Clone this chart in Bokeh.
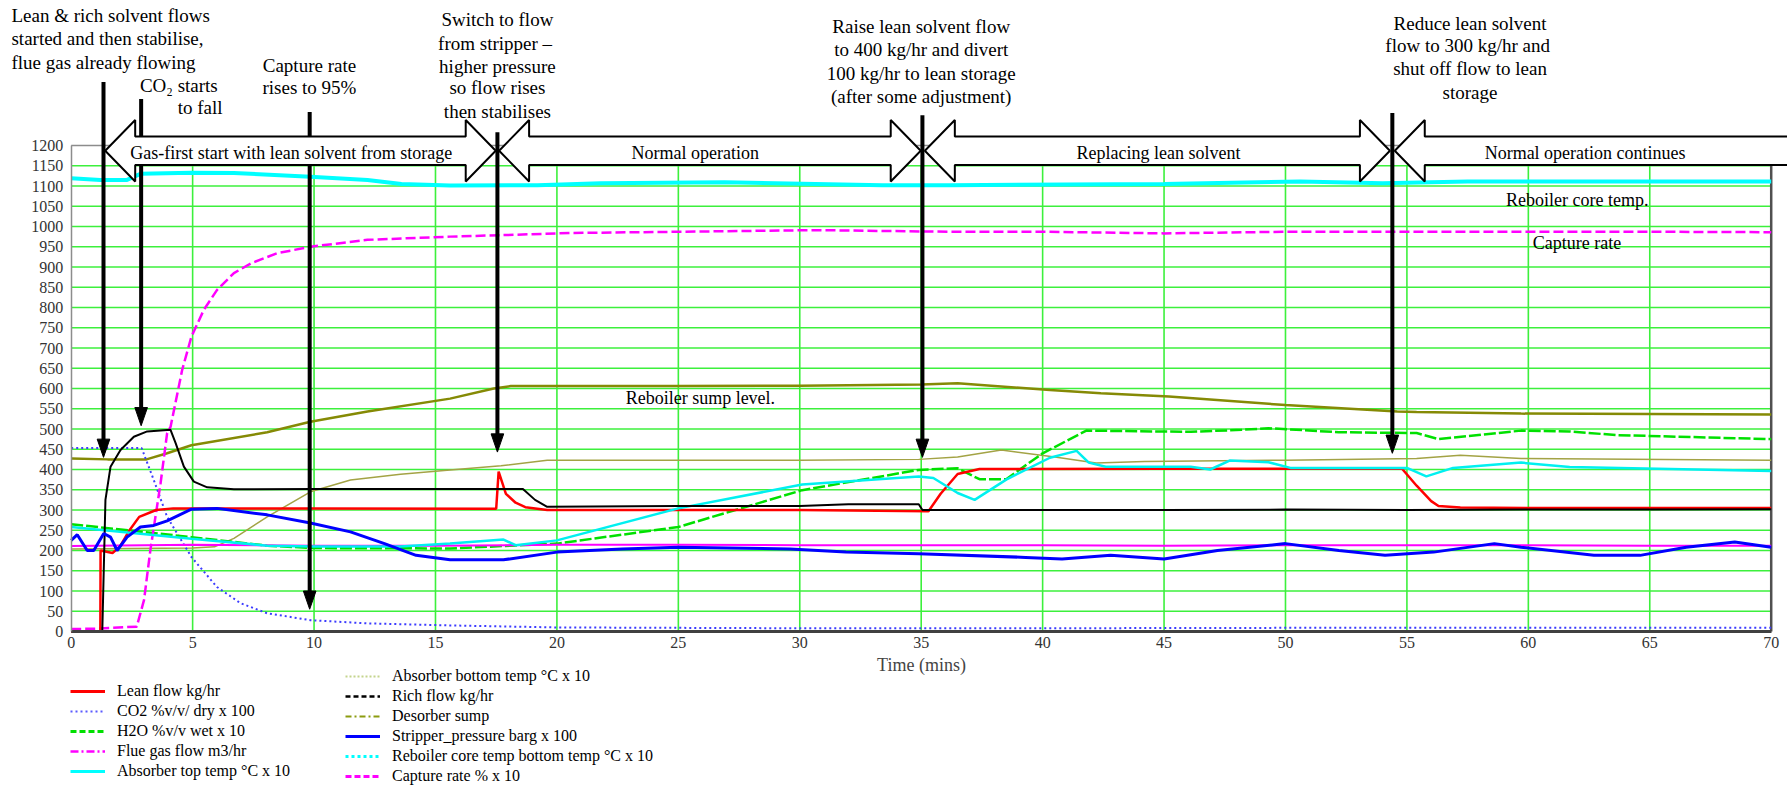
from bokeh.plotting import figure
from bokeh.models import Range1d, FixedTicker, Label, Legend, LegendItem, LinearAxis
from bokeh.embed import file_html
from bokeh.resources import INLINE

FONT = "Liberation Serif"
NAN = float("nan")

# ---------------- data ----------------
x_ticks = [0, 5, 10, 15, 20, 25, 30, 35, 40, 45, 50, 55, 60, 65, 70]
y_ticks = [0, 50, 100, 150, 200, 250, 300, 350, 400, 450, 500, 550, 600,
           650, 700, 750, 800, 850, 900, 950, 1000, 1050, 1100, 1150, 1200]

lean_t = [0, 1.2, 1.21, 1.7, 2.0, 2.4, 2.8, 3.5, 4.2, 10, 17.5, 17.6, 17.9, 18.3, 18.7, 19.6,
          25, 30, 35.3, 35.8, 36.5, 37.4, 45, 50, 54.8, 55.4, 56.0, 56.3, 57.2, 60, 65, 70]
lean_v = [0, 0, 200, 194, 209, 250, 283, 300, 304, 304, 303, 395, 340, 318, 307, 300,
          300, 300, 297, 340, 389, 401, 402, 402, 402, 360, 322, 310, 306, 305, 305, 305]

co2_t = [0, 2.9, 3.4, 3.95, 4.95, 6.0, 6.97, 8.07, 9.85, 12.2, 15.6, 20, 30, 40, 50, 60, 70]
co2_v = [453, 453, 374, 283, 184, 110, 70, 45, 28, 20, 15, 10, 8, 8, 9, 9, 9]

h2o_t = [0, 4.95, 8.07, 10, 15.6, 20, 25, 30.1, 34.9, 36.5, 37.4, 38.5, 40.0, 41.8, 46.1,
         48.2, 49.3, 52.2, 55.4, 56.3, 59.7, 61.7, 63.6, 70]
h2o_v = [265, 233, 212, 206, 205, 217, 258, 349, 399, 403, 376, 376, 440, 496, 493,
         498, 502, 492, 490, 475, 496, 494, 485, 475]

flue_t = [0, 5, 10, 15, 20, 25, 30, 35, 40, 45, 50, 55, 60, 65, 70]
flue_v = [211, 214, 212, 212, 214, 214, 213, 213, 213, 212, 213, 213, 213, 212, 212]

abstop_t = [0, 4.95, 8.07, 10, 13.56, 15.6, 17.8, 18.3, 20, 25, 30.1, 34.9, 35.5, 36.5, 37.2,
            38.5, 40.3, 41.4, 41.9, 42.6, 46.1, 46.9, 47.7, 49.3, 50.2, 55.0, 55.8, 56.9,
            59.7, 61.7, 70]
abstop_v = [258, 229, 212, 210, 210, 217, 227, 213, 225, 304, 363, 383, 379, 342, 325,
            375, 429, 446, 417, 407, 407, 400, 422, 418, 404, 404, 383, 404,
            417, 406, 396]

absbot_t = [0, 5, 5.9, 6.7, 8.07, 9.85, 11.5, 13.56, 15.6, 17.7, 19.6, 25, 30, 34.9, 36.5,
            38.3, 40.5, 42.2, 44.2, 50, 55.4, 57.2, 59.7, 70]
absbot_v = [204, 206, 209, 230, 283, 345, 374, 388, 399, 409, 423, 423, 423, 425, 431,
            448, 431, 416, 420, 423, 427, 435, 427, 423]

rich_t = [0, 1.28, 1.41, 1.62, 2.03, 2.58, 3.13, 4.09, 4.3, 4.64, 5.05, 5.6, 6.7, 10, 15,
          18.6, 19.1, 19.6, 25, 30, 32, 34.9, 35.05, 40, 45, 50, 55, 60, 65, 70]
rich_v = [0, 0, 325, 407, 448, 481, 494, 498, 465, 407, 370, 356, 351, 352, 352,
          352, 325, 308, 310, 310, 314, 314, 300, 300, 300, 301, 300, 301, 301, 302]

sump_t = [0, 1.5, 3.1, 3.95, 4.95, 8.07, 9.85, 12.2, 15.6, 17.4, 18.1, 25, 30, 35, 36.5,
          40.3, 42.4, 45.2, 50.0, 54.6, 55.4, 59.7, 65, 70]
sump_v = [427, 425, 425, 440, 460, 492, 518, 543, 575, 600, 606, 606, 607, 610, 613,
          596, 588, 580, 559, 543, 542, 538, 537, 536]

strip_t = [0, 0.25, 0.66, 0.93, 1.34, 1.62, 1.89, 2.3, 2.85, 3.4, 3.95, 4.95, 6.0, 8.07,
           9.85, 11.5, 12.9, 14.2, 15.6, 17.8, 20.0, 22.7, 25, 29.6, 31.9, 34.9, 39.3,
           40.8, 42.8, 45.0, 47.2, 50.0, 52.2, 54.1, 56.1, 58.6, 59.7, 62.7, 64.6, 66.5,
           68.5, 70]
strip_v = [225, 239, 200, 200, 242, 233, 200, 233, 258, 262, 273, 302, 304, 288,
           268, 246, 217, 188, 177, 177, 196, 204, 208, 204, 196, 192, 183,
           179, 188, 179, 200, 217, 200, 188, 196, 217, 208, 188, 188, 208,
           221, 208]

reb_t = [0, 1.2, 2.3, 2.85, 4.95, 6.7, 9.85, 12.2, 13.6, 15.6, 19.2, 21.8, 26.9, 33.4,
         36.2, 45, 50.6, 54.0, 57.5, 70]
reb_v = [1119, 1115, 1115, 1130, 1133, 1132, 1123, 1115, 1105, 1101, 1102, 1107, 1109,
         1102, 1102, 1105, 1111, 1107, 1111, 1111]

cap_t = [0, 1, 2.7, 3.0, 3.26, 3.68, 3.95, 4.09, 4.57, 4.95, 5.46, 6.0, 6.7, 7.4, 8.48,
         9.85, 12.2, 15.6, 17.95, 20.6, 26.4, 30.7, 36.2, 40, 45, 50, 55, 60, 65, 70]
cap_v = [6, 7, 12, 78, 201, 366, 490, 505, 646, 728, 794, 843, 885, 909, 934,
         950, 967, 975, 979, 984, 988, 991, 987, 987, 983, 987, 987, 987, 987, 986]

# event markers (time, arrow top, arrow tip) and annotation texts
event_t = [1.33, 2.88, 9.82, 17.55, 35.05, 54.4]
event_top = [1357, 1315, 1283, 1233, 1275, 1280]
event_tip = [430, 508, 55, 443, 430, 440]

phase_start = [1.40, 17.62, 35.15, 54.50]
phase_end = [17.48, 34.98, 54.30, 71.0]
phase_head = [True, True, True, False]
phase_text = ["Gas-first  start with lean  solvent from  storage", "Normal  operation",
              "Replacing lean solvent", "Normal  operation continues"]
phase_text_x = [9.34, 25.79, 44.77, 62.43]

notes = [
    (-2.46, 1522, "Lean & rich solvent flows", "left"),
    (-2.46, 1465, "started and then stabilise,", "left"),
    (-2.46, 1406, "flue gas already flowing", "left"),
    (6.23, 1349, "CO\u2082  starts", "right"),
    (6.23, 1293, "to fall", "right"),
    (9.81, 1398, "Capture rate", "center"),
    (9.81, 1344, "rises to 95%", "center"),
    (17.55, 1510, "Switch to flow", "center"),
    (17.55, 1453, "from  stripper \u2013", "center"),
    (17.55, 1396, "higher pressure", "center"),
    (17.55, 1342, "so flow rises", "center"),
    (17.55, 1283, "then stabilises", "center"),
    (35.0, 1493, "Raise lean solvent flow", "center"),
    (35.0, 1436, "to 400 kg/hr and divert", "center"),
    (35.0, 1377, "100 kg/hr to lean storage", "center"),
    (35.0, 1320, "(after some adjustment)", "center"),
    (57.6, 1502, "Reduce lean solvent", "center"),
    (57.6, 1446, "flow to 300  kg/hr and", "center"),
    (57.6, 1389, "shut off flow to lean", "center"),
    (57.6, 1332, "storage", "center"),
]
curve_notes = [
    (26.0, 576, "Reboiler  sump level."),
    (62.2, 1065, "Reboiler  core  temp."),
    (62.0, 959, "Capture rate"),
]

# ---------------- layout constants (pixels) ----------------
W, H = 1787, 786
X0_PX, PX_PER_MIN = 70.7, 1700 / 70.0
Y0_PX, PX_PER_UNIT = 631.0, 0.405

p = figure(width=W, height=H,
           x_range=Range1d(-X0_PX / PX_PER_MIN, (W - X0_PX) / PX_PER_MIN),
           y_range=Range1d(-(H - Y0_PX) / PX_PER_UNIT, Y0_PX / PX_PER_UNIT),
           x_axis_location=None, y_axis_location=None,
           output_backend="svg", toolbar_location=None,
           min_border_left=0, min_border_right=0, min_border_top=0, min_border_bottom=0)
p.outline_line_color = None
p.grid.visible = False
p.background_fill_color = "white"

xaxis = LinearAxis(fixed_location=0, bounds=(0, 70), ticker=FixedTicker(ticks=x_ticks))
yaxis = LinearAxis(fixed_location=0, bounds=(0, 1200), ticker=FixedTicker(ticks=y_ticks))
for ax in (xaxis, yaxis):
    ax.major_tick_out = 0
    ax.major_tick_in = 0
    ax.minor_tick_out = 0
    ax.minor_tick_in = 0
    ax.major_label_text_font = FONT
    ax.major_label_text_font_size = "16px"
    ax.major_label_text_color = "#333333"
yaxis.axis_line_color = "#8c8c8c"
yaxis.axis_line_width = 1.5
yaxis.major_label_standoff = 8
xaxis.axis_line_color = "#404040"
xaxis.axis_line_width = 3
xaxis.major_label_standoff = 5
xaxis.axis_label = "Time (mins)"
xaxis.axis_label_text_font = FONT
xaxis.axis_label_text_font_size = "18px"
xaxis.axis_label_text_font_style = "normal"
xaxis.axis_label_standoff = 4

# grid
GRID = "#3cf03c"
hy = [v for v in y_ticks if 0 < v < 1200]
p.segment(x0=[0] * len(hy), x1=[70] * len(hy), y0=hy, y1=hy, line_color=GRID, line_width=1.6)
vx = [v for v in x_ticks if 0 < v < 70]
p.segment(x0=vx, x1=vx, y0=[0] * len(vx), y1=[1150] * len(vx), line_color=GRID, line_width=1.6)
# frame
p.segment(x0=[0], x1=[70], y0=[1200], y1=[1200], line_color="#8c8c8c", line_width=1.5)
p.segment(x0=[70], x1=[70], y0=[0], y1=[1200], line_color="#505050", line_width=2.5)

# curves
p.line(absbot_t, absbot_v, line_color="#a3a345", line_width=1.5)
p.line(sump_t, sump_v, line_color="#858a05", line_width=2.5)
p.line(co2_t, co2_v, line_color="#3c3cff", line_width=2, line_dash="2 3")
p.line(h2o_t, h2o_v, line_color="#00e000", line_width=2.5, line_dash="12 3")
p.line(flue_t, flue_v, line_color="#ff00ff", line_width=2)
p.line(cap_t, cap_v, line_color="#ff00ff", line_width=2.5, line_dash="10 4")
p.line(reb_t, reb_v, line_color="#00ffff", line_width=4)
p.line(lean_t, lean_v, line_color="#ff0000", line_width=2.5)
p.line(abstop_t, abstop_v, line_color="#00f0f0", line_width=2.5)
p.line(rich_t, rich_v, line_color="#000000", line_width=2)
p.line(strip_t, strip_v, line_color="#0000ff", line_width=3)

p.add_layout(xaxis, "below")
p.add_layout(yaxis, "left")

# vertical event arrows: shafts (behind the phase arrows)
p.segment(x0=event_t, x1=event_t, y0=event_top, y1=[v + 40 for v in event_tip],
          line_color="black", line_width=4)

# phase block arrows
YC, HB, HH, HL = 1187, 35, 76, 1.235
pxs, pys = [], []
for a, b, rh in zip(phase_start, phase_end, phase_head):
    if rh:
        pxs.append([a, a + HL, a + HL, b - HL, b - HL, b, b - HL, b - HL, a + HL, a + HL])
        pys.append([YC, YC + HH, YC + HB, YC + HB, YC + HH, YC, YC - HH, YC - HB, YC - HB, YC - HH])
    else:
        pxs.append([a, a + HL, a + HL, b, b, a + HL, a + HL])
        pys.append([YC, YC + HH, YC + HB, YC + HB, YC - HB, YC - HB, YC - HH])
p.patches(pxs, pys, fill_color="white", line_color="black", line_width=2)

# arrow heads
hxs = [[t - 0.26, t + 0.26, t] for t in event_t]
hys = [[v + 45, v + 45, v] for v in event_tip]
p.patches(hxs, hys, fill_color="black", line_color="black", line_width=1)

for tx, txt in zip(phase_text_x, phase_text):
    p.add_layout(Label(x=tx, y=YC - 6, text=txt, text_align="center", text_baseline="middle",
                       text_font=FONT, text_font_size="18px", text_color="black"))

for x, y, txt, al in notes:
    p.add_layout(Label(x=x, y=y, text=txt, text_align=al, text_baseline="middle",
                       text_font=FONT, text_font_size="19px", text_color="black"))

for x, y, txt in curve_notes:
    p.add_layout(Label(x=x, y=y, text=txt, text_align="center", text_baseline="middle",
                       text_font=FONT, text_font_size="18px", text_color="black"))

# legend (swatches use the legend's own line styles; proxies hold no visible points)
left_items = [
    ("Lean flow kg/hr", "#ff0000", 3, "solid"),
    ("CO2 %v/v/ dry x 100", "#5a5aff", 2, "2 3"),
    ("H2O %v/v wet x 10", "#00e000", 3, "6 3"),
    ("Flue gas flow m3/hr", "#ff00ff", 2.5, "8 3 2 3"),
    ("Absorber top temp \u00b0C x 10", "#00ffff", 3, "solid"),
]
right_items = [
    ("Absorber bottom temp \u00b0C x 10", "#c4d48c", 2, "2 2"),
    ("Rich flow kg/hr", "#000000", 2.5, "5 3"),
    ("Desorber sump", "#8c9c10", 2, "6 3 2 3"),
    ("Stripper_pressure barg x 100", "#0000ff", 3, "solid"),
    ("Reboiler core temp bottom temp \u00b0C x 10", "#00ffff", 3, "3 3"),
    ("Capture rate % x 10", "#ff00ff", 3, "6 3"),
]


def make_legend(items, loc):
    li = []
    for lab, col, w, dash in items:
        r = p.line(x=[NAN, NAN], y=[NAN, NAN], line_color=col, line_width=w, line_dash=dash)
        li.append(LegendItem(label=lab, renderers=[r]))
    lg = Legend(items=li, location=loc, orientation="vertical",
                label_text_font=FONT, label_text_font_size="16px", label_text_color="black",
                glyph_width=35, glyph_height=20, label_height=20, label_standoff=12,
                spacing=0, padding=0, margin=0, border_line_color=None,
                background_fill_alpha=0)
    p.add_layout(lg)


make_legend(left_items, (70, 5))
make_legend(right_items, (345, 0))

open("out.html", "w").write(file_html(p, INLINE))
